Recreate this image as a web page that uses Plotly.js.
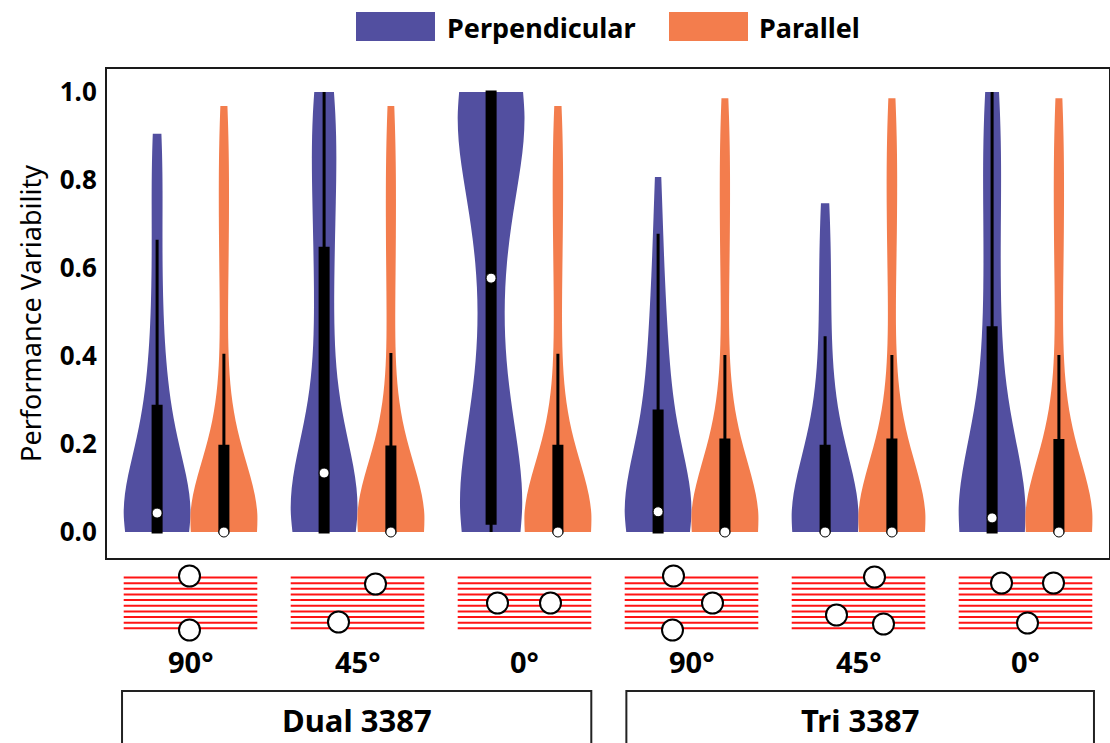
<!DOCTYPE html>
<html><head><meta charset="utf-8">
<script src="https://cdn.plot.ly/plotly-3.0.1.min.js"></script>
<style>html,body{margin:0;padding:0;background:#fff}#chart{width:1110px;height:743px}</style>
</head><body><div id="chart"></div>
<script>
// ---------------- data ----------------
const categories = ["Dual 90°", "Dual 45°", "Dual 0°", "Tri 90°", "Tri 45°", "Tri 0°"];
const angleLabels = ["90°", "45°", "0°", "90°", "45°", "0°"];
const groupLabels = ["Dual 3387", "Tri 3387"];
const seriesNames = ["Perpendicular", "Parallel"];
const yTickVals = [0, 0.2, 0.4, 0.6, 0.8, 1.0];
const yTickText = ["0.0", "0.2", "0.4", "0.6", "0.8", "1.0"];

// Perpendicular samples (estimated)
const perpDual90 = [0,0,0,0,0,0,0,0,0,0,0,0,0,0,0,
  0.005,0.01,0.015,0.02,0.025,0.03,0.033,0.036,0.039,0.042,0.044,0.046,
  0.06,0.08,0.10,0.12,0.14,0.16,0.18,0.20,0.22,0.24,0.26,0.282,
  0.29,0.33,0.38,0.43,0.48,0.54,0.60,0.664,
  0.74,0.80,0.85,0.89,0.905];
const perpDual45 = [0,0,0,0,0,0,0,0,0,0,0,0,0,
  0.01,0.02,0.03,0.04,0.05,0.06,0.07,0.08,0.09,0.10,0.11,0.128,0.14,
  0.16,0.18,0.21,0.25,0.30,0.35,0.40,0.45,0.50,0.55,0.60,0.645,
  0.68,0.72,0.76,0.80,0.84,0.88,0.92,0.95,0.97,0.99,1.0,1.0];
const perpDual0 = [0,0,0,0,0.005,0.005,0.01,0.01,0.01,0.015,0.015,0.02,0.02,
  0.05,0.09,0.13,0.16,0.19,0.22,0.25,0.28,0.32,0.37,0.44,0.535,
  0.62,0.66,0.70,0.74,0.77,0.80,0.83,0.86,0.89,0.92,0.95,0.98,
  1.0,1.0,1.0,1.0,1.0,1.0,1.0,1.0,1.0,1.0,1.0,1.0,1.0];
const perpTri90 = [0,0,0,0,0,0,0,0,0,0,0,0,0,0,
  0.005,0.01,0.015,0.02,0.025,0.03,0.034,0.038,0.041,0.044,0.045,0.047,
  0.06,0.08,0.10,0.12,0.14,0.16,0.18,0.20,0.22,0.24,0.26,0.275,
  0.29,0.34,0.37,0.40,0.43,0.46,0.50,0.54,0.60,0.678,
  0.75,0.807];
const perpTri45 = [0,0,0,0,0,0,0,0,0,0,0,0,0,0,0,0,0,0,0,0,0,0,0,0,0,0,
  0.01,0.025,0.04,0.055,0.07,0.085,0.10,0.12,0.14,0.16,0.18,0.195,
  0.22,0.26,0.30,0.35,0.40,0.445,
  0.53,0.58,0.63,0.675,0.71,0.747];
const perpTri0 = [0,0,0,0,0,0,0,0,0,0,0,0,0,
  0.003,0.006,0.009,0.012,0.015,0.018,0.021,0.024,0.026,0.028,0.030,0.031,0.033,
  0.05,0.08,0.11,0.14,0.17,0.20,0.24,0.28,0.32,0.37,0.42,0.464,
  0.52,0.58,0.64,0.70,0.75,0.80,0.85,0.89,0.93,0.97,1.0,1.0];

// Parallel samples (estimated)
const parDual90 = [0,0,0,0,0,0,0,0,0,0,0,0,0,0,0,0,0,0,0,0,0,0,0,0,0,0,
  0.01,0.025,0.04,0.055,0.07,0.085,0.10,0.115,0.13,0.15,0.17,0.195,
  0.25,0.33,0.405,
  0.52,0.58,0.64,0.70,0.76,0.82,0.88,0.93,0.968];
const parDual45 = [0,0,0,0,0,0,0,0,0,0,0,0,0,0,0,0,0,0,0,0,0,0,0,0,0,0,
  0.01,0.025,0.04,0.055,0.07,0.085,0.10,0.115,0.13,0.15,0.17,0.193,
  0.25,0.33,0.407,
  0.51,0.57,0.63,0.69,0.75,0.81,0.87,0.925,0.968];
const parDual0 = [0,0,0,0,0,0,0,0,0,0,0,0,0,0,0,0,0,0,0,0,0,0,0,0,0,0,
  0.01,0.025,0.04,0.055,0.07,0.085,0.10,0.115,0.13,0.15,0.17,0.195,
  0.26,0.34,0.405,
  0.52,0.59,0.65,0.71,0.77,0.83,0.88,0.93,0.968];
const parTri90 = [0,0,0,0,0,0,0,0,0,0,0,0,0,0,0,0,0,0,0,0,0,0,0,0,0,0,
  0.01,0.025,0.04,0.055,0.07,0.09,0.11,0.13,0.15,0.17,0.19,0.209,
  0.26,0.33,0.402,
  0.53,0.59,0.65,0.71,0.77,0.83,0.89,0.94,0.986];
const parTri45 = [0,0,0,0,0,0,0,0,0,0,0,0,0,0,0,0,0,0,0,0,0,0,0,0,0,0,
  0.01,0.025,0.045,0.06,0.075,0.09,0.11,0.13,0.15,0.17,0.19,0.209,
  0.26,0.33,0.402,
  0.54,0.60,0.66,0.72,0.78,0.84,0.89,0.94,0.986];
const parTri0 = [0,0,0,0,0,0,0,0,0,0,0,0,0,0,0,0,0,0,0,0,0,0,0,0,0,0,
  0.01,0.025,0.04,0.055,0.07,0.09,0.11,0.13,0.15,0.17,0.19,0.208,
  0.26,0.335,0.402,
  0.53,0.59,0.65,0.71,0.77,0.83,0.89,0.945,0.986];

const perpMedians = [0.043, 0.134, 0.577, 0.046, 0, 0.032];
const parMedians = [0, 0, 0, 0, 0, 0];

// ---------------- styling / layout config ----------------
const perpBandwidth = [0.13, 0.15, 0.17, 0.135, 0.14, 0.17];
const parBandwidth = [0.13, 0.13, 0.13, 0.13, 0.13, 0.13];
const COLORS = { perp: "#524FA0", par: "#F37D4D" };
const FONT = "Noto Sans, Open Sans, DejaVu Sans, sans-serif";
const M = { l: 107, r: 1, t: 69, b: 185 };
const W = 1110, H = 743;
const PW = W - M.l - M.r, PH = H - M.t - M.b;
const py2paper = py => (H - M.b - py) / PH;
const px2paper = px => (px - M.l) / PW;

// electrode contact illustration offsets (px from diagram centre; +y = up)
const contactOffsets = [
  [[-1, 27], [-1, -27]],
  [[18, 19], [-19, -19]],
  [[-27, 0], [26, 0]],
  [[-18, 27], [21, 0], [-19, -27]],
  [[16, 26], [-22, -12], [25, -21]],
  [[-24, 20], [28, 20], [2, -20]]
];

const perpSamples = [perpDual90, perpDual45, perpDual0, perpTri90, perpTri45, perpTri0];
const parSamples = [parDual90, parDual45, parDual0, parTri90, parTri45, parTri0];

function violin(samples, cat, color, group, bw, name) {
  return {
    type: "violin", x: samples.map(() => cat), y: samples, name: name,
    scalegroup: group + "|" + cat,
    offsetgroup: group, alignmentgroup: "g", orientation: "v",
    fillcolor: color, line: { color: color, width: 0 }, opacity: 1,
    spanmode: "hard", bandwidth: bw, scalemode: "width", points: false,
    box: { visible: true, width: 0.12, fillcolor: "#000", line: { color: "#000", width: 3 } },
    meanline: { visible: false }, showlegend: false, hoverinfo: "skip"
  };
}

const traces = [];
categories.forEach((c, i) => traces.push(violin(perpSamples[i], c, COLORS.perp, "perp", perpBandwidth[i], seriesNames[0])));
categories.forEach((c, i) => traces.push(violin(parSamples[i], c, COLORS.par, "par", parBandwidth[i], seriesNames[1])));
traces.push({ type: "scatter", mode: "markers", x: categories, y: perpMedians, offsetgroup: "perp", alignmentgroup: "g", orientation: "v",
  marker: { size: 10, color: "#fff", line: { color: "#000", width: 1 } }, showlegend: false, cliponaxis: false, hoverinfo: "skip" });
traces.push({ type: "scatter", mode: "markers", x: categories, y: parMedians, offsetgroup: "par", alignmentgroup: "g", orientation: "v",
  marker: { size: 10, color: "#fff", line: { color: "#000", width: 1 } }, showlegend: false, cliponaxis: false, hoverinfo: "skip" });

// ---------------- shapes & annotations ----------------
const shapes = [];
const annotations = [];
const stripeCentre = py2paper(603);
categories.forEach((c, i) => {
  for (let k = 0; k < 10; k++) {
    const y = py2paper(577.5 + k * 5.65);
    shapes.push({ type: "line", xref: "x", yref: "paper", x0: i - 0.40, x1: i + 0.40, y0: y, y1: y,
      line: { color: "#ff1414", width: 2 } });
  }
});
contactOffsets.forEach((list, i) => {
  list.forEach(([dx, dy]) => {
    shapes.push({ type: "circle", xref: "x", yref: "paper", xsizemode: "pixel", ysizemode: "pixel",
      xanchor: i, yanchor: stripeCentre, x0: dx - 10.5, x1: dx + 10.5, y0: dy - 10.5, y1: dy + 10.5,
      fillcolor: "#fff", line: { color: "#000", width: 2 } });
  });
  annotations.push({ xref: "x", yref: "paper", x: i, y: py2paper(661), text: angleLabels[i], showarrow: false,
    xanchor: "center", yanchor: "middle", font: { family: FONT, size: 29, weight: 700, color: "#000" } });
});
// group boxes
const groupSpans = [[-0.41, 2.40], [2.61, 5.41]];
groupSpans.forEach(([a, b], g) => {
  shapes.push({ type: "rect", xref: "x", yref: "paper", x0: a, x1: b, y0: py2paper(691), y1: py2paper(760),
    line: { color: "#222", width: 2 }, fillcolor: "rgba(0,0,0,0)" });
  annotations.push({ xref: "x", yref: "paper", x: (a + b) / 2, y: py2paper(720), text: groupLabels[g], showarrow: false,
    xanchor: "center", yanchor: "middle", font: { family: FONT, size: 31, weight: 700, color: "#000" } });
});
// legend
const legendItems = [
  { name: seriesNames[0], color: COLORS.perp, sx0: 356, sx1: 435, tx: 445 },
  { name: seriesNames[1], color: COLORS.par, sx0: 669, sx1: 748, tx: 757 }
];
legendItems.forEach(it => {
  shapes.push({ type: "rect", xref: "paper", yref: "paper", x0: px2paper(it.sx0), x1: px2paper(it.sx1),
    y0: py2paper(41), y1: py2paper(12), fillcolor: it.color, line: { width: 0 } });
  annotations.push({ xref: "paper", yref: "paper", x: px2paper(it.tx), y: py2paper(27), text: it.name, showarrow: false,
    xanchor: "left", yanchor: "middle", font: { family: FONT, size: 27, weight: 700, color: "#000" } });
});

const layout = {
  width: W, height: H, margin: M, paper_bgcolor: "#fff", plot_bgcolor: "#fff",
  font: { family: FONT, color: "#000" },
  showlegend: false,
  violinmode: "group", violingap: 0.2, violingroupgap: 0,
  scattermode: "group", scattergap: 0.2,
  xaxis: { type: "category", categoryorder: "array", categoryarray: categories, range: [-0.5, 5.5],
    showticklabels: false, ticks: "", showgrid: false, zeroline: false,
    showline: true, mirror: true, linecolor: "#1a1a1a", linewidth: 2, fixedrange: true },
  yaxis: { range: [-0.0591, 1.0523], tickvals: yTickVals, ticktext: yTickText, ticks: "",
    ticklabelstandoff: 3,
    tickfont: { family: FONT, size: 26, weight: 700, color: "#000" },
    showgrid: false, zeroline: false, showline: true, mirror: true, linecolor: "#1a1a1a", linewidth: 2,
    title: { text: "Performance Variability", font: { family: FONT, size: 27, color: "#000" }, standoff: 10 } },
  shapes: shapes, annotations: annotations
};

Plotly.newPlot("chart", traces, layout, { staticPlot: true, displayModeBar: false });
</script>
</body></html>
